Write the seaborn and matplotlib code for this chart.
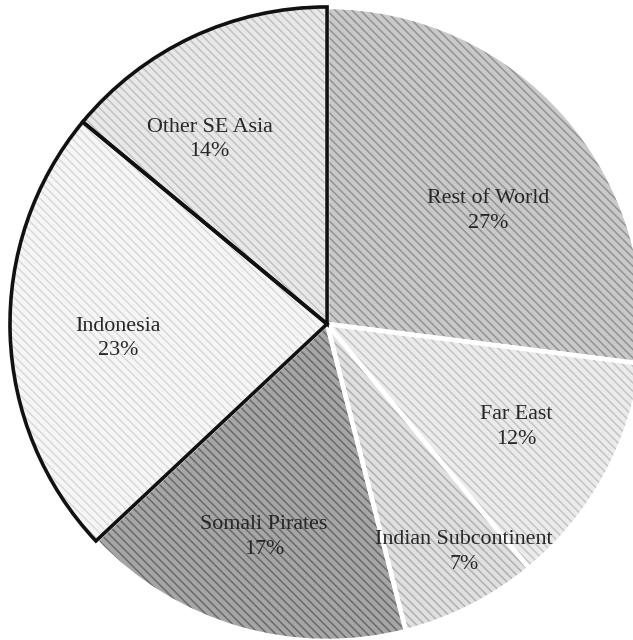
import matplotlib
matplotlib.use("Agg")
import matplotlib.pyplot as plt
import numpy as np
import seaborn as sns

# Share of incidents by region
regions = ["Rest of World", "Far East", "Indian Subcontinent",
           "Somali Pirates", "Indonesia", "Other SE Asia"]
shares = [27, 12, 7, 17, 23, 14]

# Slice fills: base tone and stripe tone
base_colors = ["#c9c9c9", "#ebebeb", "#e0e0e0", "#a6a6a6", "#f6f6f6", "#e8e8e8"]
stripe_colors = ["#939393", "#c4c4c4", "#b0b0b0", "#6a6a6a", "#dadada", "#c2c2c2"]
outline_colors = ["white", "white", "white", "white", "#111111", "#111111"]
outline_widths = [3.2, 3.2, 3.2, 3.2, 2.6, 2.6]

# Label placement (radius fraction, angle in degrees)
label_pos = [(0.62, 35.0), (0.68, -28.5), (0.84, -59.0),
             (0.70, -106.5), (0.66, 184.0), (0.69, 122.5)]

sns.set_theme(style="white")
plt.rcParams["font.family"] = ["Liberation Serif", "DejaVu Serif"]
plt.rcParams["hatch.linewidth"] = 1.1

fig = plt.figure(figsize=(6.33, 6.40), dpi=100)
ax = fig.add_axes([0, 0, 1, 1])

# Striped fill layer
wedges, _ = ax.pie(shares, startangle=90, counterclock=False, radius=1.0,
                   colors=base_colors, wedgeprops=dict(linewidth=0))
for w, sc in zip(wedges, stripe_colors):
    w.set_hatch("\\\\\\\\")
    w.set_edgecolor(sc)
    w.set_linewidth(0)

# Outline layer: white borders first, black ones on top
outlines, _ = ax.pie(shares, startangle=90, counterclock=False, radius=1.0,
                     colors=["none"] * len(shares),
                     wedgeprops=dict(fill=False))
for i, w in enumerate(outlines):
    w.set_edgecolor(outline_colors[i])
    w.set_linewidth(outline_widths[i])
    w.set_joinstyle("miter")
    w.set_zorder(3 + (1 if outline_colors[i] != "white" else 0))

for name, val, (r, ang) in zip(regions, shares, label_pos):
    a = np.deg2rad(ang)
    ax.text(r * np.cos(a), r * np.sin(a), f"{name}\n{val}%",
            ha="center", va="center", fontsize=15.8, color="#262626",
            linespacing=1.4, zorder=6)

ax.set_aspect("auto")
ax.set_xlim(-1.0315, 0.965)
ax.set_ylim(-0.997, 1.022)
ax.axis("off")

fig.savefig("out.png", dpi=100, facecolor="white")
